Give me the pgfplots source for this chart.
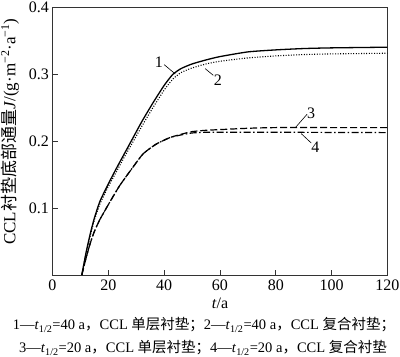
\documentclass[border=0pt]{standalone}
\usepackage{fontspec}
\setmainfont{Liberation Serif}
\newfontfamily\cjk{Noto Sans CJK SC}
\usepackage{pgfplots}
\pgfplotsset{compat=1.18}
\begin{document}
\begin{tikzpicture}
\path[use as bounding box] (0pt,0pt) rectangle (400pt,357pt);
\begin{axis}[
  at={(52.5pt,82pt)}, anchor=south west,
  scale only axis, width=335pt, height=268pt,
  xmin=0, xmax=120, ymin=0, ymax=0.4,
  xtick={0,20,...,120}, ytick={0.1,0.2,0.3,0.4},
  xtick pos=bottom, ytick pos=left, tick align=inside,
  major tick length=5pt,
  axis line style={line width=0.8pt, black!80},
  tick style={line width=0.7pt, black!80},
  /pgf/number format/assume math mode=true,
  yticklabel style={/pgf/number format/fixed, /pgf/number format/precision=1, /pgf/number format/fixed zerofill},
  tick label style={font=\fontsize{16}{16}\selectfont},
  xticklabel style={yshift=-1pt},
  xlabel={\textit{t}/a},
  x label style={at={(axis description cs:0.5,-0.105)}, anchor=center, font=\fontsize{16}{16}\selectfont},
  ylabel={CCL{\cjk 衬垫底部通量}\textit{J}/(g·m\textsuperscript{−2}·a\textsuperscript{−1})},
  y label style={at={(axis description cs:-0.127,0.535)}, anchor=center, font=\fontsize{17}{17}\selectfont},
]
% curve 1: t1/2=40 a, single liner (solid)
\addplot[black, line width=1.3pt, smooth, tension=0.35] coordinates {
(10.5,0) (12,0.033) (13.5,0.061) (15,0.085) (17,0.11) (20,0.136) (23,0.16) (26,0.183) (29,0.206) (32,0.229) (36,0.257) (40,0.283) (43,0.299) (46,0.308) (50,0.315) (55,0.321) (60,0.326) (70,0.333) (80,0.336) (90,0.338) (100,0.339) (120,0.340)};
% curve 2: t1/2=40 a, composite liner (dotted)
\addplot[black, line width=1.1pt, smooth, tension=0.35, dash pattern=on 1pt off 1.6pt] coordinates {
(10.5,0) (12,0.032) (13.5,0.058) (15,0.082) (17,0.106) (20,0.132) (23,0.155) (26,0.178) (29,0.2) (32,0.222) (36,0.25) (40,0.276) (43,0.292) (46,0.302) (50,0.309) (55,0.315) (60,0.319) (70,0.324) (80,0.327) (90,0.329) (100,0.33) (120,0.331)};
% curve 3: t1/2=20 a, single liner (dashed)
\addplot[black, line width=1.2pt, smooth, tension=0.35, dash pattern=on 7pt off 3pt] coordinates {
(10.5,0) (12,0.025) (13.5,0.047) (15,0.065) (17,0.083) (20,0.105) (24,0.133) (29,0.162) (32.5,0.181) (37,0.195) (42,0.205) (46,0.210) (50,0.214) (55,0.216) (60,0.217) (70,0.219) (80,0.220) (100,0.220) (120,0.220)};
% curve 4: t1/2=20 a, composite liner (dash-dot)
\addplot[black, line width=1.2pt, smooth, tension=0.35, dash pattern=on 7pt off 2.5pt on 1.5pt off 2.5pt] coordinates {
(10.5,0) (12,0.025) (13.5,0.047) (15,0.065) (17,0.083) (20,0.105) (24,0.133) (29,0.162) (32.5,0.181) (37,0.195) (42,0.205) (46,0.209) (50,0.212) (55,0.213) (60,0.213) (80,0.213) (100,0.2128) (120,0.2125)};
% labels with leader lines
\draw[black, line width=0.6pt] (40,0.314) -- (44,0.30);
\node[font=\fontsize{16}{16}\selectfont, anchor=east, inner sep=1pt] at (40,0.318) {1};
\draw[black, line width=0.6pt] (54.7,0.308) -- (57.6,0.298);
\node[font=\fontsize{16}{16}\selectfont, anchor=north west, inner sep=1pt] at (57.4,0.300) {2};
\draw[black, line width=0.6pt] (87,0.220) -- (91.2,0.240);
\node[font=\fontsize{16}{16}\selectfont, anchor=south west, inner sep=1pt] at (90.8,0.232) {3};
\draw[black, line width=0.6pt] (89.1,0.211) -- (92.7,0.197);
\node[font=\fontsize{16}{16}\selectfont, anchor=north west, inner sep=1pt] at (92.3,0.201) {4};
\end{axis}
\node[font=\fontsize{14.5}{14.5}\selectfont, anchor=center] at (204pt,32pt) {1—\textit{t}\textsubscript{1/2}=40 a{\cjk ，}CCL {\cjk 单层衬垫；}2—\textit{t}\textsubscript{1/2}=40 a{\cjk ，}CCL {\cjk 复合衬垫；}};
\node[font=\fontsize{14.5}{14.5}\selectfont, anchor=center] at (203pt,9pt) {3—\textit{t}\textsubscript{1/2}=20 a{\cjk ，}CCL {\cjk 单层衬垫；}4—\textit{t}\textsubscript{1/2}=20 a{\cjk ，}CCL {\cjk 复合衬垫}};
\end{tikzpicture}
\end{document}
